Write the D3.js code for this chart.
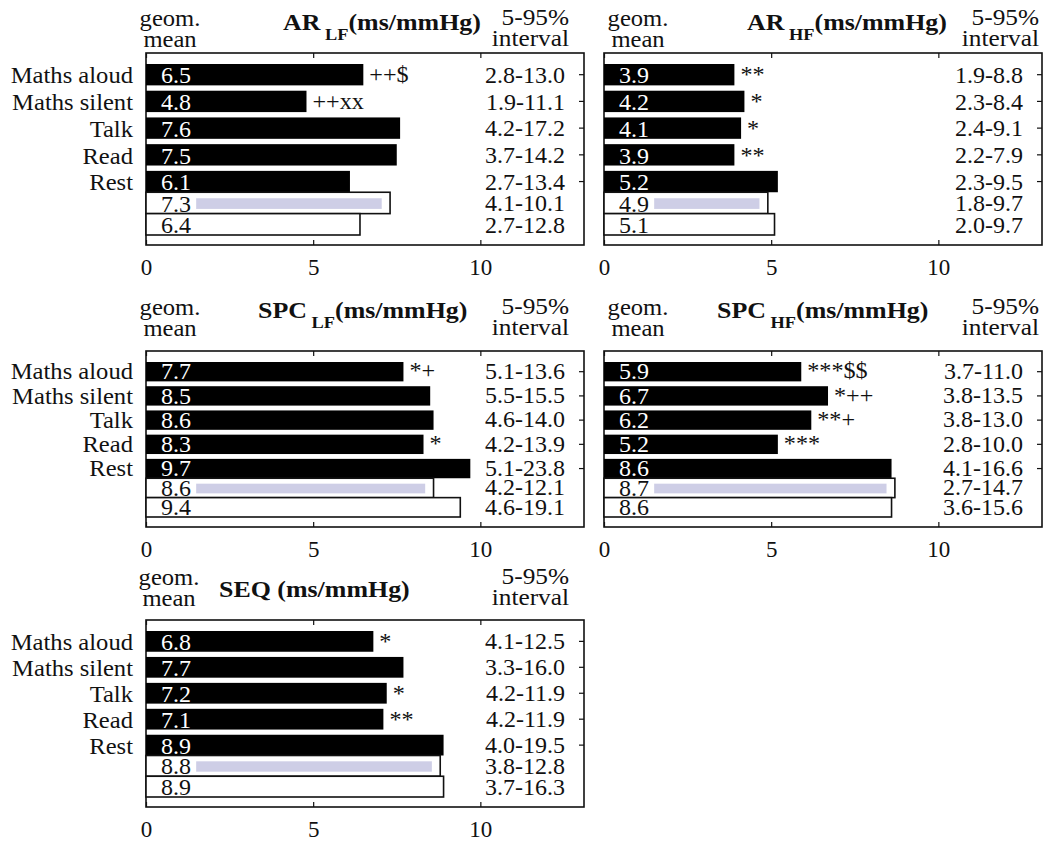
<!DOCTYPE html>
<html><head><meta charset="utf-8">
<script src="https://cdn.jsdelivr.net/npm/d3@7"></script>
<style>html,body{margin:0;padding:0;background:#fff;} svg{display:block;}</style>
</head><body><svg id="c" width="1050" height="841"></svg>
<script>
// ---------------- data ----------------
const categories = ["Maths aloud", "Maths silent", "Talk", "Read", "Rest"];
// each series: 5 task rows followed by 2 reference rows (open bars)
const arLFMeans  = [6.5, 4.8, 7.6, 7.5, 6.1, 7.3, 6.4];
const arHFMeans  = [3.9, 4.2, 4.1, 3.9, 5.2, 4.9, 5.1];
const spcLFMeans = [7.7, 8.5, 8.6, 8.3, 9.7, 8.6, 9.4];
const spcHFMeans = [5.9, 6.7, 6.2, 5.2, 8.6, 8.7, 8.6];
const seqMeans   = [6.8, 7.7, 7.2, 7.1, 8.9, 8.8, 8.9];

const arLFIntervals  = ["2.8-13.0", "1.9-11.1", "4.2-17.2", "3.7-14.2", "2.7-13.4", "4.1-10.1", "2.7-12.8"];
const arHFIntervals  = ["1.9-8.8", "2.3-8.4", "2.4-9.1", "2.2-7.9", "2.3-9.5", "1.8-9.7", "2.0-9.7"];
const spcLFIntervals = ["5.1-13.6", "5.5-15.5", "4.6-14.0", "4.2-13.9", "5.1-23.8", "4.2-12.1", "4.6-19.1"];
const spcHFIntervals = ["3.7-11.0", "3.8-13.5", "3.8-13.0", "2.8-10.0", "4.1-16.6", "2.7-14.7", "3.6-15.6"];
const seqIntervals   = ["4.1-12.5", "3.3-16.0", "4.2-11.9", "4.2-11.9", "4.0-19.5", "3.8-12.8", "3.7-16.3"];

const arLFSig  = ["++$", "++xx", "", "", ""];
const arHFSig  = ["**", "*", "*", "**", ""];
const spcLFSig = ["*+", "", "", "*", ""];
const spcHFSig = ["***$$", "*++", "**+", "***", ""];
const seqSig   = ["*", "", "*", "**", ""];

const titleMain = ["AR", "AR", "SPC", "SPC", "SEQ"];
const titleSub  = ["LF", "HF", "LF", "HF", ""];
const titleUnit = "(ms/mmHg)";
const tickValues = [0, 5, 10];
const xDomain = [0, 13.1];

// ---------------- layout (positions only) ----------------
const layout = [
  {left:146, top:53,  bottom:245, headY:26,  geomX:170, intHeadX:569,  titleX:283, titleY:30,  labels:true},
  {left:604, top:53,  bottom:245, headY:26,  geomX:638, intHeadX:1039, titleX:747, titleY:30,  labels:false},
  {left:146, top:351, bottom:527, headY:315, geomX:170, intHeadX:569,  titleX:258, titleY:318, labels:true},
  {left:604, top:351, bottom:527, headY:315, geomX:638, intHeadX:1039, titleX:717, titleY:318, labels:false},
  {left:146, top:620, bottom:807, headY:585, geomX:169, intHeadX:569,  titleX:219, titleY:597, labels:true}
];
const boxW = 438;
const FONT = "Liberation Serif";
const INK = "#111";

const panels = [
  {means: arLFMeans,  intervals: arLFIntervals,  sig: arLFSig},
  {means: arHFMeans,  intervals: arHFIntervals,  sig: arHFSig},
  {means: spcLFMeans, intervals: spcLFIntervals, sig: spcLFSig},
  {means: spcHFMeans, intervals: spcHFIntervals, sig: spcHFSig},
  {means: seqMeans,   intervals: seqIntervals,   sig: seqSig}
];

const svg = d3.select("#c");

function txt(g, s, x, y, opts) {
  return g.append("text")
    .attr("transform", `translate(${x},${y}) scale(${opts.sx || 1},1)`)
    .style("font-family", FONT)
    .attr("font-size", opts.size || 22)
    .attr("font-weight", opts.bold ? "bold" : "normal")
    .attr("text-anchor", opts.anchor || "start")
    .attr("fill", opts.fill || INK)
    .text(s);
}

panels.forEach((p, pi) => {
  const L = layout[pi];
  const g = svg.append("g");
  const x = d3.scaleLinear().domain(xDomain).range([L.left, L.left + boxW]);

  const padT = 11, padB = 10;
  const inner = (L.bottom - L.top) - padT - padB;
  const h = inner / 8;            // 7 bars + 4 gaps of h/4
  const gap = h / 4;
  const y = d3.scaleBand().domain(categories)
    .range([L.top + padT, L.top + padT + 5 * h + 4 * gap])
    .paddingInner(gap / (h + gap)).paddingOuter(0);
  const bw = y.bandwidth();
  const nC = categories.length;
  const rowTop = i => i < nC ? y(categories[i]) : y(categories[nC - 1]) + bw * (i - nC + 1);

  const rows = p.means.map((v, i) => ({v, i, ref: i >= nC, interval: p.intervals[i], sig: p.sig[i] || ""}));

  // box
  g.append("rect").attr("x", L.left).attr("y", L.top)
    .attr("width", boxW).attr("height", L.bottom - L.top)
    .attr("fill", "none").attr("stroke", INK).attr("stroke-width", 1.6);

  // axes ticks
  const axB = g.append("g").attr("transform", `translate(0,${L.bottom})`)
    .call(d3.axisBottom(x).tickValues(tickValues).tickSize(-5).tickFormat(d3.format("d")));
  axB.select(".domain").remove();
  axB.selectAll("line").attr("stroke", INK).attr("stroke-width", 1.2);
  axB.selectAll("text").attr("y", 30).attr("dy", null)
    .style("font-family", FONT).attr("font-size", 23).attr("fill", INK);

  const axT = g.append("g").attr("transform", `translate(0,${L.top})`)
    .call(d3.axisTop(x).tickValues(tickValues).tickSize(-5).tickFormat(""));
  axT.select(".domain").remove();
  axT.selectAll("line").attr("stroke", INK).attr("stroke-width", 1.2);

  const axR = g.append("g").attr("transform", `translate(${L.left + boxW},0)`)
    .call(d3.axisRight(y).tickSize(-5).tickFormat(""));
  axR.select(".domain").remove();
  axR.selectAll("line").attr("stroke", INK).attr("stroke-width", 1.2);

  // bars
  g.selectAll("rect.bar").data(rows).join("rect").attr("class", "bar")
    .attr("x", x(0)).attr("y", d => rowTop(d.i))
    .attr("width", d => x(d.v) - x(0)).attr("height", bw)
    .attr("fill", d => d.ref ? "#fff" : "#000")
    .attr("stroke", d => d.ref ? INK : "none")
    .attr("stroke-width", 1.6);

  // faint shading inside first reference bar (as in scan)
  const r0 = rows[nC];
  g.append("rect")
    .attr("x", x(1.5)).attr("y", rowTop(r0.i) + bw * 0.28)
    .attr("width", Math.max(0, x(r0.v - 0.25) - x(1.5))).attr("height", bw * 0.5)
    .attr("fill", "#c6c6e2").attr("opacity", 0.85);

  // value labels, intervals, significance marks
  rows.forEach(d => {
    txt(g, d.v.toFixed(1), x(0) + 15, rowTop(d.i) + bw - 2,
      {size: 24, sx: 1.0, fill: d.ref ? INK : "#fff"});
    txt(g, d.interval, L.left + 419, rowTop(d.i) + bw - 2.5, {size: 24, anchor: "end", sx: 1.0});
    if (d.sig) txt(g, d.sig, x(d.v) + 6, rowTop(d.i) + bw - 3, {size: 23, sx: 1.05});
  });

  // category labels (left column only)
  if (L.labels) {
    categories.forEach(c => txt(g, c, L.left - 13, y(c) + bw - 2, {size: 23, anchor: "end", sx: 1.07}));
  }

  // headers
  txt(g, "geom.", L.geomX, L.headY, {size: 23, anchor: "middle", sx: 1.07});
  txt(g, "mean", L.geomX, L.headY + 21, {size: 23, anchor: "middle", sx: 1.07});
  txt(g, "5-95%", L.intHeadX, L.headY - 1, {size: 23, anchor: "end", sx: 1.1});
  txt(g, "interval", L.intHeadX, L.headY + 20, {size: 23, anchor: "end", sx: 1.1});

  const tt = g.append("text")
    .attr("transform", `translate(${L.titleX},${L.titleY}) scale(1.08,1)`)
    .style("font-family", FONT).attr("font-weight", "bold").attr("font-size", 24).attr("fill", INK);
  tt.append("tspan").text(titleMain[pi]);
  if (titleSub[pi]) {
    tt.append("tspan").attr("font-size", 17).attr("dy", 10).text(" " + titleSub[pi]);
    tt.append("tspan").attr("dy", -10).text(titleUnit);
  } else {
    tt.append("tspan").text(" " + titleUnit);
  }
});
</script>
</body></html>
